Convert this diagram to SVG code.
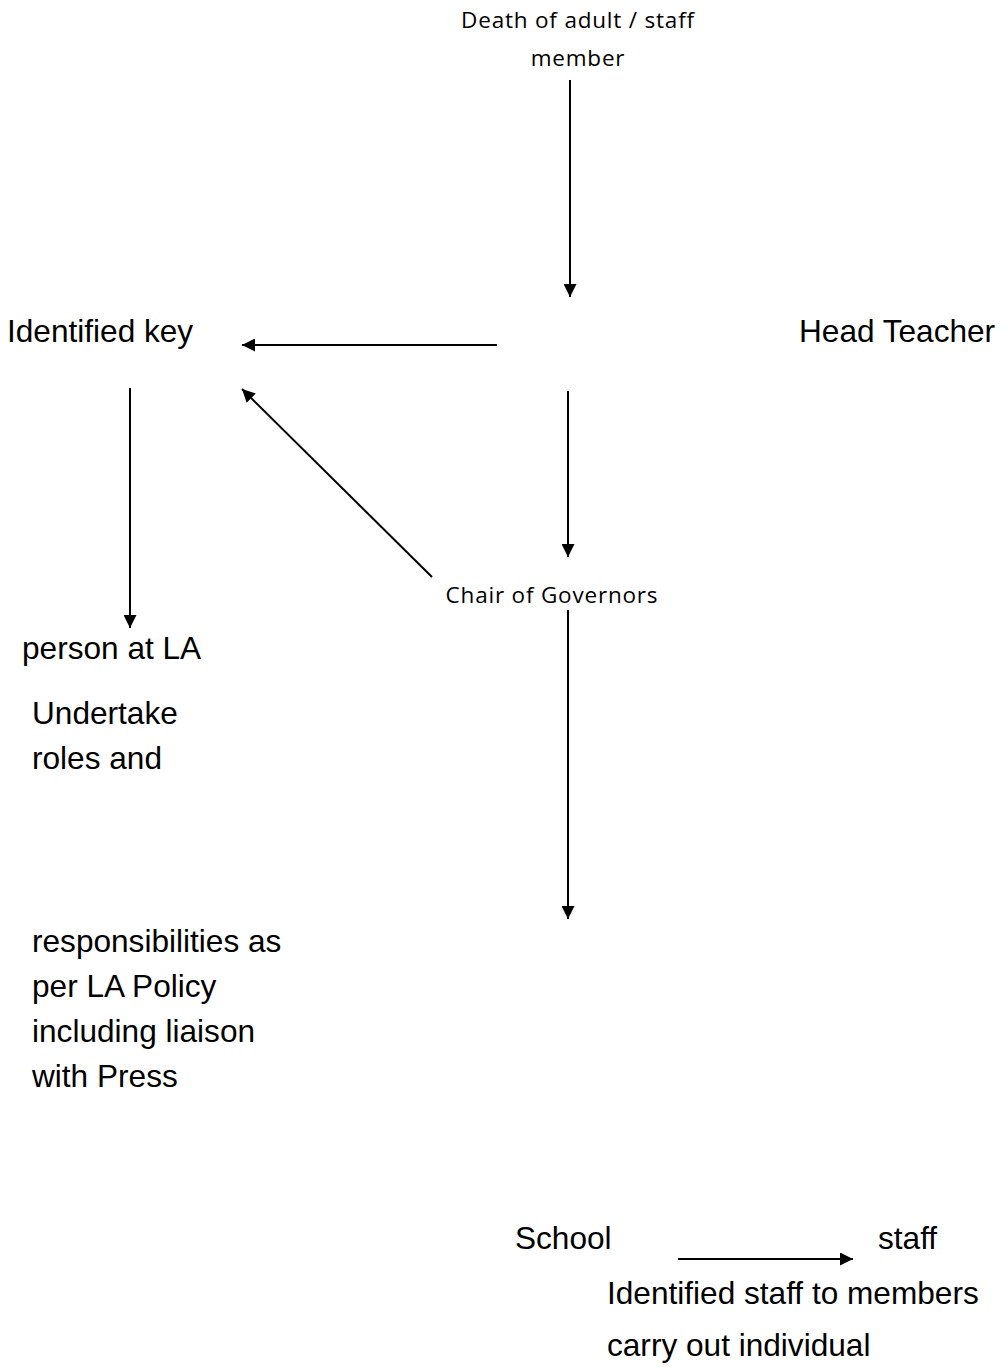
<svg xmlns="http://www.w3.org/2000/svg" width="1003" height="1368" viewBox="0 0 1003 1368">
<style>
.big{font-family:"Liberation Sans",Arial,sans-serif;font-size:31.6px;fill:#000}
.small{font-family:"Open Sans","Noto Sans",sans-serif;font-size:22.5px;letter-spacing:0.8px;fill:#000}
.conn line{stroke:#000;stroke-width:2;fill:none;marker-end:url(#ah)}
</style>
<defs>
<marker id="ah" viewBox="0 0 10 10" refX="10" refY="5" markerWidth="7" markerHeight="6.5" markerUnits="strokeWidth" orient="auto">
<path d="M0,0 L10,5 L0,10 Z" fill="#000"/>
</marker>
</defs>
<rect width="1003" height="1368" fill="#fff"/>
<g id="death"><text class="small" x="578" y="28" text-anchor="middle">Death of adult / staff</text><text class="small" x="578" y="66" text-anchor="middle">member</text></g>
<g id="identified-key"><text class="big" x="7" y="342">Identified key</text><text class="big" x="22" y="659">person at LA</text></g>
<g id="head-teacher"><text class="big" x="799" y="342">Head Teacher</text></g>
<g id="chair"><text class="small" x="552" y="603" text-anchor="middle">Chair of Governors</text></g>
<g id="undertake"><text class="big" x="32" y="724">Undertake</text><text class="big" x="32" y="769">roles and</text><text class="big" x="32" y="952">responsibilities as</text><text class="big" x="32" y="997">per LA Policy</text><text class="big" x="32" y="1042">including liaison</text><text class="big" x="32" y="1087">with Press</text></g>
<g id="school-staff"><text class="big" x="515" y="1249">School</text><text class="big" x="878" y="1249">staff</text><text class="big" x="607" y="1304">Identified staff to members</text><text class="big" x="607" y="1356">carry out individual</text></g>
<g id="connectors" class="conn">
<line x1="570" y1="80" x2="570" y2="297"/>
<line x1="497" y1="345" x2="242" y2="345"/>
<line x1="432" y1="577" x2="242" y2="389"/>
<line x1="130" y1="388" x2="130" y2="628"/>
<line x1="568" y1="391" x2="568" y2="557"/>
<line x1="568" y1="610" x2="568" y2="919"/>
<line x1="678" y1="1259" x2="853" y2="1259"/>
</g>
</svg>
